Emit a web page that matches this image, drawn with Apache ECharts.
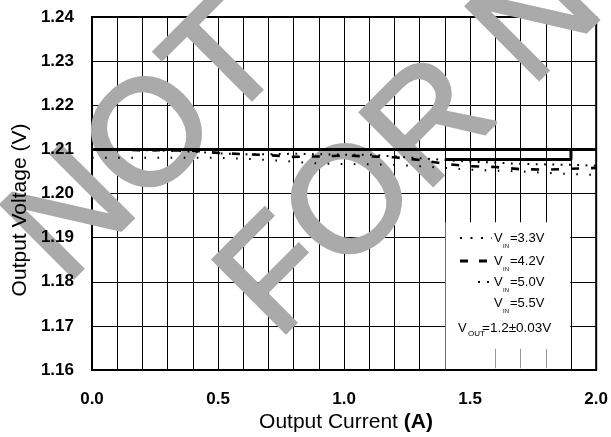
<!DOCTYPE html>
<html><head><meta charset="utf-8">
<script src="https://cdn.jsdelivr.net/npm/echarts@6/dist/echarts.min.js"></script>
<style>html,body{margin:0;padding:0;background:#fff}#c{width:611px;height:437px}</style>
</head><body><div id="c"></div>
<script>
// ---- data ----
const current = [0,0.1,0.2,0.3,0.4,0.5,0.6,0.7,0.8,0.9,1.0,1.1,1.2,1.3,1.4,1.5,1.6,1.7,1.8,1.9,2.0];
const vin33 = [1.2081,1.2081,1.2081,1.2081,1.2081,1.2081,1.2079,1.2076,1.2072,1.2068,1.2067,1.2066,1.2065,1.2062,1.2058,1.2054,1.2052,1.2050,1.2047,1.2044,1.2042];
const vin42 = [1.2099,1.2099,1.2098,1.2098,1.2097,1.2092,1.2089,1.2087,1.2083,1.2084,1.2086,1.2084,1.2082,1.2076,1.2067,1.2062,1.2060,1.2055,1.2054,1.2056,1.2058];
const vin50 = [1.2099,1.2099,1.2098,1.2097,1.2095,1.2091,1.2089,1.2089,1.2090,1.2089,1.2088,1.2088,1.2084,1.2080,1.2076,1.2072,1.2070,1.2067,1.2066,1.2065,1.2063];
const vin55 = [1.21,1.21,1.21,1.21,1.21,1.21,1.21,1.21,1.21,1.21,1.21,1.21,1.21,1.21,1.21,1.21,1.21,1.21,1.21,1.21,1.21];
const boxEdgeX = [1.4, 1.9, 1.9];
const boxEdgeY = [1.2077, 1.2077, 1.21];
const xTicks = ['0.0','0.5','1.0','1.5','2.0'];
const yTicks = ['1.16','1.17','1.18','1.19','1.20','1.21','1.22','1.23','1.24'];
const seriesNames = ['V_IN=3.3V','V_IN=4.2V','V_IN=5.0V','V_IN=5.5V'];
const legendValues = ['=3.3V','=4.2V','=5.0V','=5.5V'];
const accuracyText = '=1.2\u00B10.03V';
const stubX = [1.6, 1.7, 1.8];

const pairs = (xs, ys) => xs.map((x, i) => [x, ys[i]]);
const FONT = '"Liberation Sans", Arial, sans-serif';

const chart = echarts.init(document.getElementById('c'), null, {renderer: 'canvas'});

const legendRowsY = [238, 261, 282, 303];
const legendGraphics = [];
legendRowsY.forEach((y, i) => {
  legendGraphics.push({type:'text', z:10, x:494, y:y, style:{text:'V', font:'13px ' + FONT, fill:'#000', textAlign:'left', textVerticalAlign:'middle'}});
  legendGraphics.push({type:'text', z:10, x:503, y:y+8, style:{text:'IN', font:'6px ' + FONT, fill:'#000', textAlign:'left', textVerticalAlign:'middle'}});
  legendGraphics.push({type:'text', z:10, x:510, y:y, style:{text:legendValues[i], font:'13px ' + FONT, fill:'#000', textAlign:'left', textVerticalAlign:'middle'}});
});
legendGraphics.push({type:'line', z:10, shape:{x1:460, y1:238, x2:492, y2:238}, style:{stroke:'#000', lineWidth:2, lineDash:[2, 8.5]}});
legendGraphics.push({type:'line', z:10, shape:{x1:460, y1:261, x2:491, y2:261}, style:{stroke:'#000', lineWidth:3, lineDash:[8, 11]}});
legendGraphics.push({type:'line', z:10, shape:{x1:478, y1:282, x2:490, y2:282}, style:{stroke:'#000', lineWidth:2, lineDash:[2, 7]}});
legendGraphics.push({type:'text', z:10, x:458, y:328, style:{text:'V', font:'13px ' + FONT, fill:'#000', textAlign:'left', textVerticalAlign:'middle'}});
legendGraphics.push({type:'text', z:10, x:468, y:334, style:{text:'OUT', font:'8px ' + FONT, fill:'#000', textAlign:'left', textVerticalAlign:'middle'}});
legendGraphics.push({type:'text', z:10, x:482, y:328, style:{text:accuracyText, font:'13.5px ' + FONT, fill:'#000', textAlign:'left', textVerticalAlign:'middle'}});

const wmStyle = {font:'150px ' + FONT, fill:'#aaaaaa', stroke:'#aaaaaa', lineWidth:3, textVerticalAlign:'middle'};
const watermark = [
  {type:'text', z:1, x:148, y:145, rotation:Math.PI/4, silent:true,
   style:Object.assign({text:'NOT', textAlign:'center'}, wmStyle)},
  {type:'text', z:1, x:248, y:312, rotation:Math.PI/4, silent:true,
   style:Object.assign({text:'FOR NEW', textAlign:'left'}, wmStyle)}
];

const titles = [
  {type:'text', z:5, x:346, y:422, style:{text:'Output Current {b|(A)}', font:'21px ' + FONT, fill:'#000', textAlign:'center', textVerticalAlign:'middle',
    rich:{b:{fontWeight:'bold', fontSize:21, fontFamily:FONT, fill:'#000'}}}},
  {type:'text', z:5, x:20, y:210, rotation:Math.PI/2, style:{text:'Output Voltage (V)', font:'21px ' + FONT, fill:'#000', textAlign:'center', textVerticalAlign:'middle'}}
];

const dashStyles = [
  {width:2, type:[1.6, 11.5]},
  {width:2.6, type:[8, 12]},
  {width:2, type:[1.8, 6.5]}
];

const xFmt = (v) => { const k = Math.round(v*10); return (k % 5 === 0) ? xTicks[k/5] : ''; };
const yFmt = (v) => yTicks[Math.round((v-1.16)*100)];
const labelStyle = {color:'#000', fontWeight:'bold', fontSize:17, fontFamily:FONT};

chart.setOption({
  animation:false,
  backgroundColor:'#fff',
  grid:{left:92, right:14, top:17, bottom:67, show:true, borderColor:'#000', borderWidth:2, backgroundColor:'transparent'},
  xAxis:[
    {type:'value', min:0, max:2, interval:0.1, position:'bottom', z:0,
      axisLine:{show:false}, axisTick:{show:false}, axisLabel:{show:false},
      splitLine:{show:true, lineStyle:{color:'#000', width:1}}},
    {type:'value', min:0, max:2, interval:0.1, position:'bottom', offset:0, z:6,
      axisLine:{show:false}, axisTick:{show:false}, splitLine:{show:false},
      axisLabel:Object.assign({margin:21, formatter:xFmt}, labelStyle)}
  ],
  yAxis:[
    {type:'value', min:1.16, max:1.24, interval:0.01, position:'left', z:0,
      axisLine:{show:false}, axisTick:{show:false}, axisLabel:{show:false},
      splitLine:{show:true, lineStyle:{color:'#000', width:1}}},
    {type:'value', min:1.16, max:1.24, interval:0.01, position:'left', offset:0, z:6,
      axisLine:{show:false}, axisTick:{show:false}, splitLine:{show:false},
      axisLabel:Object.assign({margin:18, formatter:yFmt}, labelStyle)}
  ],
  series:[
    {name:seriesNames[3], type:'line', data:pairs(current, vin55), showSymbol:false, z:3,
      lineStyle:{color:'#000', width:3},
      markArea:{silent:true, label:{show:false}, itemStyle:{color:'#fff', borderWidth:0},
        data:[[{coord:[1.4025, 1.1935]}, {coord:[1.8975, 1.1602]}]]},
      markLine:{silent:true, symbol:['none','none'], label:{show:false}, lineStyle:{color:'#999', width:1, type:'solid'},
        data: stubX.map(x => [{coord:[x, 1.1648]}, {coord:[x, 1.1604]}])}},
    {name:'box', type:'line', data:pairs(boxEdgeX, boxEdgeY), showSymbol:false, z:3,
      lineStyle:{color:'#000', width:3}},
    {name:seriesNames[0], type:'line', data:pairs(current, vin33), showSymbol:false, z:4,
      lineStyle:{color:'#000', width:dashStyles[0].width, type:dashStyles[0].type}},
    {name:seriesNames[1], type:'line', data:pairs(current, vin42), showSymbol:false, z:4,
      lineStyle:{color:'#000', width:dashStyles[1].width, type:dashStyles[1].type}},
    {name:seriesNames[2], type:'line', data:pairs(current, vin50), showSymbol:false, z:4,
      lineStyle:{color:'#000', width:dashStyles[2].width, type:dashStyles[2].type, dashOffset:4}}
  ],
  graphic:{elements: watermark.concat(titles, legendGraphics)}
});
</script></body></html>
